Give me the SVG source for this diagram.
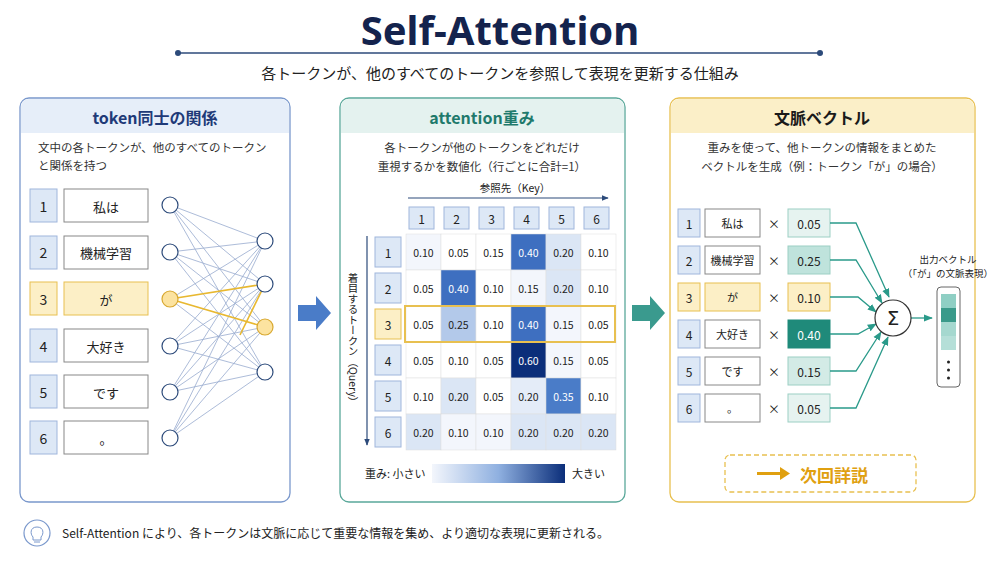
<svg xmlns="http://www.w3.org/2000/svg" width="1000" height="563" viewBox="0 0 1000 563">
<style>
text{font-family:"Noto Sans CJK JP","Noto Sans",sans-serif;fill:#222}
.t{font-size:12px;text-anchor:middle;dominant-baseline:central}
.d{font-size:11.5px;fill:#333}
.nb{fill:#dde8f6;stroke:#9fb6dc;stroke-width:1}
.wb{fill:#fff;stroke:#888;stroke-width:1}
.yb{fill:#fcefc6;stroke:#e8c050;stroke-width:1}
.nc{fill:#fff;stroke:#2c4a7a;stroke-width:1.2}
.ln{stroke:#7f97c4;stroke-width:0.8;opacity:.8}
.yl{stroke:#e8b830;stroke-width:1.6}
.cl{stroke:#ddd;stroke-width:.5}
.tc{stroke:#2a9a8a;stroke-width:1.3;fill:none}
</style>
<defs>
<marker id="ah" viewBox="0 0 10 10" refX="9" refY="5" markerWidth="7" markerHeight="7" orient="auto"><path d="M0,1L10,5L0,9z" fill="#2a9a8a"/></marker>
<marker id="an" viewBox="0 0 10 10" refX="9" refY="5" markerWidth="6" markerHeight="6" orient="auto"><path d="M0,1L10,5L0,9z" fill="#2c4a7a"/></marker>
<linearGradient id="gr"><stop offset="0" stop-color="#f3f6fc"/><stop offset="0.5" stop-color="#8fb0e0"/><stop offset="1" stop-color="#0b2e7a"/></linearGradient>
</defs>
<rect width="1000" height="563" fill="#fff"/>
<g id="title">
<text x="500" y="45" style="font-family:'Noto Sans','Open Sans',sans-serif;font-size:40px;font-weight:bold;fill:#14234d;text-anchor:middle">Self-Attention</text>
<line x1="178" y1="53" x2="820" y2="53" stroke="#2c4a7a" stroke-width="1.5"/>
<circle cx="178" cy="53" r="3" fill="#2c4a7a"/><circle cx="820" cy="53" r="3" fill="#2c4a7a"/>
<text x="500" y="79" style="font-size:15px;text-anchor:middle;fill:#222">各トークンが、他のすべてのトークンを参照して表現を更新する仕組み</text>
</g>

<g id="panel1">
<rect x="20" y="98" width="270" height="404" rx="9" fill="#fff" stroke="#7a98cc" stroke-width="1.3"/>
<path d="M21,133V107a8,8 0 0 1 8,-8H281a8,8 0 0 1 8,8V133z" fill="#e6eef9"/>
<text x="155" y="117" class="t" style="font-size:16px;font-weight:bold;fill:#1f3a78">token同士の関係</text>
<text x="38" y="152" class="d">文中の各トークンが、他のすべてのトークン</text>
<text x="38" y="170" class="d">と関係を持つ</text>
</g>
<g id="tokens1">
<rect x="30" y="189" width="27" height="33" class="nb"/><rect x="64" y="189" width="84" height="33" class="wb"/><text x="43.5" y="206" class="t" style="font-size:14px">1</text><text x="106" y="206" class="t" style="font-size:13px">私は</text>
<rect x="30" y="236" width="27" height="33" class="nb"/><rect x="64" y="236" width="84" height="33" class="wb"/><text x="43.5" y="252" class="t" style="font-size:14px">2</text><text x="106" y="252" class="t" style="font-size:13px">機械学習</text>
<rect x="30" y="282" width="27" height="33" class="yb"/><rect x="64" y="282" width="84" height="33" class="yb"/><text x="43.5" y="299" class="t" style="font-size:14px">3</text><text x="106" y="299" class="t" style="font-size:13px">が</text>
<rect x="30" y="329" width="27" height="33" class="nb"/><rect x="64" y="329" width="84" height="33" class="wb"/><text x="43.5" y="346" class="t" style="font-size:14px">4</text><text x="106" y="346" class="t" style="font-size:13px">大好き</text>
<rect x="30" y="375" width="27" height="33" class="nb"/><rect x="64" y="375" width="84" height="33" class="wb"/><text x="43.5" y="392" class="t" style="font-size:14px">5</text><text x="106" y="392" class="t" style="font-size:13px">です</text>
<rect x="30" y="421" width="27" height="33" class="nb"/><rect x="64" y="421" width="84" height="33" class="wb"/><text x="43.5" y="438" class="t" style="font-size:14px">6</text><text x="106" y="438" class="t" style="font-size:13px">。</text>
</g>
<g id="connectors1">
<g class="ln">
<line x1="170" y1="205" x2="265" y2="241"/><line x1="170" y1="205" x2="265" y2="284"/><line x1="170" y1="205" x2="265" y2="327"/><line x1="170" y1="205" x2="265" y2="372"/>
<line x1="170" y1="252" x2="265" y2="241"/><line x1="170" y1="252" x2="265" y2="284"/><line x1="170" y1="252" x2="265" y2="327"/><line x1="170" y1="252" x2="265" y2="372"/>
<line x1="170" y1="299" x2="265" y2="241"/><line x1="170" y1="299" x2="265" y2="372"/>
<line x1="170" y1="346" x2="265" y2="241"/><line x1="170" y1="346" x2="265" y2="284"/><line x1="170" y1="346" x2="265" y2="327"/><line x1="170" y1="346" x2="265" y2="372"/>
<line x1="170" y1="392" x2="265" y2="241"/><line x1="170" y1="392" x2="265" y2="284"/><line x1="170" y1="392" x2="265" y2="327"/><line x1="170" y1="392" x2="265" y2="372"/>
<line x1="170" y1="438" x2="265" y2="241"/><line x1="170" y1="438" x2="265" y2="284"/><line x1="170" y1="438" x2="265" y2="327"/><line x1="170" y1="438" x2="265" y2="372"/>
</g>
<line x1="170" y1="299" x2="265" y2="284" class="yl"/><line x1="170" y1="299" x2="265" y2="327" class="yl"/><line x1="265" y1="284" x2="240" y2="335" class="yl" stroke-width="1"/>
</g>
<g id="nodes1">
<circle cx="170" cy="205" r="8" class="nc"/><circle cx="170" cy="252" r="8" class="nc"/><circle cx="170" cy="299" r="8" fill="#fce3a0" stroke="#d8a830" stroke-width="1.2"/><circle cx="170" cy="346" r="8" class="nc"/><circle cx="170" cy="392" r="8" class="nc"/><circle cx="170" cy="438" r="8" class="nc"/>
<circle cx="265" cy="241" r="8" class="nc"/><circle cx="265" cy="284" r="8" class="nc"/><circle cx="265" cy="327" r="8" fill="#fce3a0" stroke="#d8a830" stroke-width="1.2"/><circle cx="265" cy="372" r="8" class="nc"/>
</g>

<g id="arrow1"><path d="M298,305H316V296L331,313L316,330V321H298z" fill="#4a7cc8"/></g>
<g id="arrow2"><path d="M632,305H650V296L665,313L650,330V321H632z" fill="#3a9a8e"/></g>

<g id="panel2">
<rect x="340" y="98" width="285" height="404" rx="9" fill="#fff" stroke="#5aa89a" stroke-width="1.3"/>
<path d="M341,133V107a8,8 0 0 1 8,-8H616a8,8 0 0 1 8,8V133z" fill="#e4f2ef"/>
<text x="482" y="117" class="t" style="font-size:16px;font-weight:bold;fill:#1f7a6c">attention重み</text>
<text x="482" y="152" class="d" text-anchor="middle">各トークンが他のトークンをどれだけ</text>
<text x="482" y="171" class="d" text-anchor="middle">重視するかを数値化（行ごとに合計=1）</text>
<text x="515" y="192" style="font-size:10.5px;text-anchor:middle">参照先（Key）</text>
<line x1="408" y1="198" x2="608" y2="198" stroke="#2c4a7a" stroke-width="1.2" marker-end="url(#an)"/>
<line x1="367" y1="236" x2="367" y2="445" stroke="#2c4a7a" stroke-width="1.2" marker-end="url(#an)"/>
<text x="353" y="340" style="font-size:10.5px;writing-mode:vertical-rl;text-anchor:middle">着目するトークン（Query）</text>
</g>
<g id="matrix" class="t">
<g style="font-size:12px">
<rect x="409" y="207" width="25" height="22" class="nb"/><text x="421.5" y="218">1</text>
<rect x="444" y="207" width="25" height="22" class="nb"/><text x="456.5" y="218">2</text>
<rect x="479" y="207" width="25" height="22" class="nb"/><text x="491.5" y="218">3</text>
<rect x="514" y="207" width="25" height="22" class="nb"/><text x="526.5" y="218">4</text>
<rect x="549" y="207" width="25" height="22" class="nb"/><text x="561.5" y="218">5</text>
<rect x="584" y="207" width="25" height="22" class="nb"/><text x="596.5" y="218">6</text>
<rect x="375" y="237" width="26" height="30" class="nb"/><text x="388" y="252">1</text>
<rect x="375" y="273" width="26" height="30" class="nb"/><text x="388" y="288">2</text>
<rect x="375" y="309" width="26" height="30" class="yb"/><text x="388" y="324">3</text>
<rect x="375" y="345" width="26" height="30" class="nb"/><text x="388" y="360">4</text>
<rect x="375" y="381" width="26" height="30" class="nb"/><text x="388" y="396">5</text>
<rect x="375" y="417" width="26" height="30" class="nb"/><text x="388" y="432">6</text>
</g>
<g style="font-size:10.5px">
<rect x="406" y="234" width="35" height="36" fill="#f3f6fc" class="cl"/><text x="423.5" y="252">0.10</text>
<rect x="441" y="234" width="35" height="36" fill="#fff" class="cl"/><text x="458.5" y="252">0.05</text>
<rect x="476" y="234" width="35" height="36" fill="#fff" class="cl"/><text x="493.5" y="252">0.15</text>
<rect x="511" y="234" width="35" height="36" fill="#3e6fc0" class="cl"/><text x="528.5" y="252" style="fill:#fff">0.40</text>
<rect x="546" y="234" width="35" height="36" fill="#dbe6f5" class="cl"/><text x="563.5" y="252">0.20</text>
<rect x="581" y="234" width="35" height="36" fill="#fff" class="cl"/><text x="598.5" y="252">0.10</text>
<rect x="406" y="270" width="35" height="36" fill="#fff" class="cl"/><text x="423.5" y="288">0.05</text>
<rect x="441" y="270" width="35" height="36" fill="#3e6fc0" class="cl"/><text x="458.5" y="288" style="fill:#fff">0.40</text>
<rect x="476" y="270" width="35" height="36" fill="#fff" class="cl"/><text x="493.5" y="288">0.10</text>
<rect x="511" y="270" width="35" height="36" fill="#f3f6fc" class="cl"/><text x="528.5" y="288">0.15</text>
<rect x="546" y="270" width="35" height="36" fill="#dbe6f5" class="cl"/><text x="563.5" y="288">0.20</text>
<rect x="581" y="270" width="35" height="36" fill="#fff" class="cl"/><text x="598.5" y="288">0.10</text>
<rect x="406" y="306" width="35" height="36" fill="#fff" class="cl"/><text x="423.5" y="324">0.05</text>
<rect x="441" y="306" width="35" height="36" fill="#b3c9ea" class="cl"/><text x="458.5" y="324">0.25</text>
<rect x="476" y="306" width="35" height="36" fill="#fff" class="cl"/><text x="493.5" y="324">0.10</text>
<rect x="511" y="306" width="35" height="36" fill="#3e6fc0" class="cl"/><text x="528.5" y="324" style="fill:#fff">0.40</text>
<rect x="546" y="306" width="35" height="36" fill="#f3f6fc" class="cl"/><text x="563.5" y="324">0.15</text>
<rect x="581" y="306" width="35" height="36" fill="#fff" class="cl"/><text x="598.5" y="324">0.05</text>
<rect x="406" y="342" width="35" height="36" fill="#fff" class="cl"/><text x="423.5" y="360">0.05</text>
<rect x="441" y="342" width="35" height="36" fill="#fff" class="cl"/><text x="458.5" y="360">0.10</text>
<rect x="476" y="342" width="35" height="36" fill="#fff" class="cl"/><text x="493.5" y="360">0.05</text>
<rect x="511" y="342" width="35" height="36" fill="#0b2e7a" class="cl"/><text x="528.5" y="360" style="fill:#fff">0.60</text>
<rect x="546" y="342" width="35" height="36" fill="#f3f6fc" class="cl"/><text x="563.5" y="360">0.15</text>
<rect x="581" y="342" width="35" height="36" fill="#fff" class="cl"/><text x="598.5" y="360">0.05</text>
<rect x="406" y="378" width="35" height="36" fill="#fff" class="cl"/><text x="423.5" y="396">0.10</text>
<rect x="441" y="378" width="35" height="36" fill="#dbe6f5" class="cl"/><text x="458.5" y="396">0.20</text>
<rect x="476" y="378" width="35" height="36" fill="#fff" class="cl"/><text x="493.5" y="396">0.05</text>
<rect x="511" y="378" width="35" height="36" fill="#e4ecf8" class="cl"/><text x="528.5" y="396">0.20</text>
<rect x="546" y="378" width="35" height="36" fill="#4a7cc8" class="cl"/><text x="563.5" y="396" style="fill:#fff">0.35</text>
<rect x="581" y="378" width="35" height="36" fill="#fff" class="cl"/><text x="598.5" y="396">0.10</text>
<rect x="406" y="414" width="35" height="36" fill="#dbe6f5" class="cl"/><text x="423.5" y="432">0.20</text>
<rect x="441" y="414" width="35" height="36" fill="#f3f6fc" class="cl"/><text x="458.5" y="432">0.10</text>
<rect x="476" y="414" width="35" height="36" fill="#f3f6fc" class="cl"/><text x="493.5" y="432">0.10</text>
<rect x="511" y="414" width="35" height="36" fill="#dbe6f5" class="cl"/><text x="528.5" y="432">0.20</text>
<rect x="546" y="414" width="35" height="36" fill="#dbe6f5" class="cl"/><text x="563.5" y="432">0.20</text>
<rect x="581" y="414" width="35" height="36" fill="#dbe6f5" class="cl"/><text x="598.5" y="432">0.20</text>
</g>
<rect x="405" y="306" width="210" height="36" fill="none" stroke="#e8c050" stroke-width="2"/>
</g>
<g id="legend">
<text x="365" y="478" style="font-size:11px">重み: 小さい</text>
<rect x="432" y="464" width="133" height="19" fill="url(#gr)"/>
<text x="572" y="478" style="font-size:11px">大きい</text>
</g>

<g id="panel3">
<rect x="670" y="98" width="305" height="404" rx="9" fill="#fff" stroke="#e8c050" stroke-width="1.3"/>
<path d="M671,133V107a8,8 0 0 1 8,-8H966a8,8 0 0 1 8,8V133z" fill="#fbefc8"/>
<text x="822" y="117" class="t" style="font-size:16px;font-weight:bold;fill:#1a1a1a">文脈ベクトル</text>
<text x="822" y="152" class="d" text-anchor="middle">重みを使って、他トークンの情報をまとめた</text>
<text x="822" y="171" class="d" text-anchor="middle">ベクトルを生成（例：トークン「が」の場合）</text>
</g>
<g id="rows3" class="t" style="font-size:12px">
<rect x="678" y="209" width="22" height="28" class="nb"/><rect x="705" y="209" width="55" height="28" class="wb"/><text x="689" y="223">1</text><text x="732.5" y="223" style="font-size:11px">私は</text><text x="774" y="223">×</text><rect x="788" y="209" width="42" height="28" fill="#e6f3f0" stroke="#9ccfc4"/><text x="809" y="223">0.05</text>
<rect x="678" y="246" width="22" height="28" class="nb"/><rect x="705" y="246" width="55" height="28" class="wb"/><text x="689" y="260">2</text><text x="732.5" y="260" style="font-size:11px">機械学習</text><text x="774" y="260">×</text><rect x="788" y="246" width="42" height="28" fill="#bfe3dc" stroke="#9ccfc4"/><text x="809" y="260">0.25</text>
<rect x="678" y="283" width="22" height="28" class="yb"/><rect x="705" y="283" width="55" height="28" class="yb"/><text x="689" y="297">3</text><text x="732.5" y="297" style="font-size:11px">が</text><text x="774" y="297">×</text><rect x="788" y="283" width="42" height="28" class="yb"/><text x="809" y="297">0.10</text>
<rect x="678" y="320" width="22" height="28" class="nb"/><rect x="705" y="320" width="55" height="28" class="wb"/><text x="689" y="334">4</text><text x="732.5" y="334" style="font-size:11px">大好き</text><text x="774" y="334">×</text><rect x="788" y="320" width="42" height="28" fill="#1f8a7a" stroke="#1f8a7a"/><text x="809" y="334" style="fill:#fff">0.40</text>
<rect x="678" y="357" width="22" height="28" class="nb"/><rect x="705" y="357" width="55" height="28" class="wb"/><text x="689" y="371">5</text><text x="732.5" y="371" style="font-size:11px">です</text><text x="774" y="371">×</text><rect x="788" y="357" width="42" height="28" fill="#d3ebe6" stroke="#9ccfc4"/><text x="809" y="371">0.15</text>
<rect x="678" y="394" width="22" height="28" class="nb"/><rect x="705" y="394" width="55" height="28" class="wb"/><text x="689" y="408">6</text><text x="732.5" y="408" style="font-size:11px">。</text><text x="774" y="408">×</text><rect x="788" y="394" width="42" height="28" fill="#e6f3f0" stroke="#9ccfc4"/><text x="809" y="408">0.05</text>
</g>
<g id="connectors3">
<path d="M830,223H856L889,297" class="tc" marker-end="url(#ah)"/>
<path d="M830,260H856L882,303" class="tc" marker-end="url(#ah)"/>
<path d="M830,297H858L876,312" class="tc" marker-end="url(#ah)"/>
<path d="M830,334H858L876,324" class="tc" marker-end="url(#ah)"/>
<path d="M830,371H856L881,332" class="tc" marker-end="url(#ah)"/>
<path d="M830,408H856L888,337" class="tc" marker-end="url(#ah)"/>
<path d="M911,318H932" class="tc" marker-end="url(#ah)"/>
</g>
<g id="sigma">
<circle cx="893" cy="318" r="18" fill="#fff" stroke="#333" stroke-width="1.2"/>
<text x="893" y="318" class="t" style="font-size:20px;font-family:'DejaVu Sans',sans-serif">Σ</text>
</g>
<g id="output">
<text x="948" y="259" class="t" style="font-size:9.5px">出力ベクトル</text>
<text x="948" y="273" class="t" style="font-size:9.5px">（「が」の文脈表現）</text>
<rect x="937" y="287" width="23" height="100" rx="4" fill="#fff" stroke="#666"/>
<rect x="941" y="294" width="15" height="14" fill="#8fcfc4"/>
<rect x="941" y="308" width="15" height="14" fill="#3a9a8a"/>
<rect x="941" y="322" width="15" height="14" fill="#a5d8cf"/>
<rect x="941" y="336" width="15" height="14" fill="#b5dfd8"/>
<circle cx="948.5" cy="362" r="1.5" fill="#222"/><circle cx="948.5" cy="370" r="1.5" fill="#222"/><circle cx="948.5" cy="378" r="1.5" fill="#222"/>
</g>
<g id="next">
<rect x="725" y="455" width="191" height="37" rx="5" fill="#fff" stroke="#e8c050" stroke-width="1.3" stroke-dasharray="5,3"/>
<path d="M757,473.5H782" stroke="#e0a010" stroke-width="3"/><path d="M780,467L790,473.5L780,480z" fill="#e0a010"/>
<text x="834" y="474" class="t" style="font-size:17px;font-weight:bold;fill:#e0a010">次回詳説</text>
</g>
<g id="footer">
<circle cx="37" cy="533" r="13" fill="#fff" stroke="#7a98cc" stroke-width="1.2"/>
<path d="M33,537c-3,-3 -3,-10 4,-10c7,0 7,7 4,10v3h-8z" fill="none" stroke="#7a98cc" stroke-width="1"/>
<line x1="34" y1="542" x2="40" y2="542" stroke="#7a98cc"/>
<text x="62" y="538" style="font-size:12px">Self-Attention により、各トークンは文脈に応じて重要な情報を集め、より適切な表現に更新される。</text>
</g>
</svg>
